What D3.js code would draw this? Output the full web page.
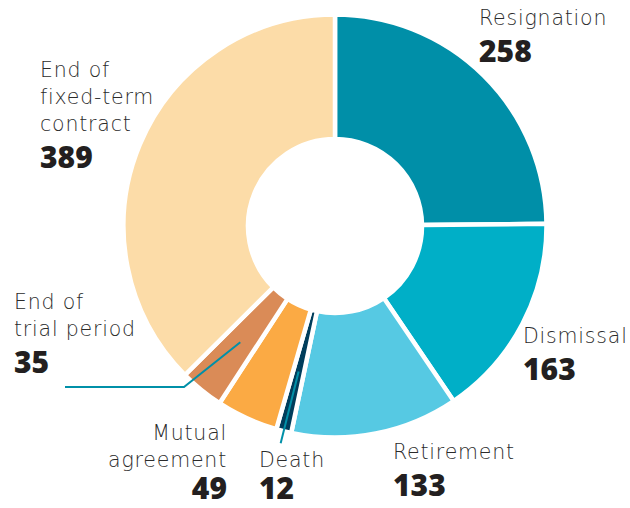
<!DOCTYPE html>
<html>
<head>
<meta charset="utf-8">
<script src="https://cdn.jsdelivr.net/npm/d3@7"></script>
<style>
  body { margin: 0; background: #fff; }
  .lbl { font-family: "DejaVu Sans", sans-serif; font-weight: 200; font-size: 20.5px; letter-spacing: 0.8px; fill: #2b2b2b; }
  .num { font-family: "Open Sans", sans-serif; font-weight: 800; font-size: 30px; fill: #231f20; }
</style>
</head>
<body>
<div id="chart"></div>
<script>
// data, clockwise from 12 o'clock
const categories = ["Resignation", "Dismissal", "Retirement", "Death", "Mutual agreement", "End of trial period", "End of fixed-term contract"];
const counts = [258, 163, 133, 12, 49, 35, 389];
const colours = ["#008fa8", "#00afc7", "#56c9e3", "#003d5b", "#fbaa44", "#da8b57", "#fcdca8"];
const labelLines = [["Resignation"], ["Dismissal"], ["Retirement"], ["Death"], ["Mutual", "agreement"], ["End of", "trial period"], ["End of", "fixed-term", "contract"]];

const width = 630, height = 508;
const cx = 335, cy = 226;
const outerR = 211.5, innerR = 87;

// where each label block sits: x, first baseline, anchor
const labelPos = [
  { x: 479, y: 25, anchor: "start" },
  { x: 523, y: 343, anchor: "start" },
  { x: 393, y: 459, anchor: "start" },
  { x: 259, y: 467, anchor: "start" },
  { x: 227, y: 440, anchor: "end" },
  { x: 14, y: 309, anchor: "start" },
  { x: 40, y: 77, anchor: "start" }
];

const svg = d3.select("#chart").append("svg")
  .attr("width", width)
  .attr("height", height);

const g = svg.append("g").attr("transform", `translate(${cx},${cy})`);

const rows = categories.map((c, i) => ({ name: c, value: counts[i], i }));
const pie = d3.pie().value(d => d.value).sort(null);
const arc = d3.arc().innerRadius(innerR).outerRadius(outerR);
const arcs = pie(rows);

g.selectAll("path.slice")
  .data(arcs)
  .join("path")
  .attr("class", "slice")
  .attr("d", arc)
  .attr("fill", d => colours[d.data.i])
  .attr("stroke", "#fff")
  .attr("stroke-width", 4.5)
  .attr("stroke-linejoin", "miter");

// leader lines for the two small slices
const polar = (a, r) => [r * Math.sin(a), -r * Math.cos(a)];
const mid = d => (d.startAngle + d.endAngle) / 2;

const death = arcs[3];
const trial = arcs[5];
const leaders = [
  [polar(mid(death), 150), polar(mid(death), 224)],
  [polar(mid(trial), 150), [184 - cx, 387 - cy], [65 - cx, 387 - cy]]
];
g.selectAll("path.leader")
  .data(leaders)
  .join("path")
  .attr("class", "leader")
  .attr("d", d3.line())
  .attr("fill", "none")
  .attr("stroke", "#0090a8")
  .attr("stroke-width", 2);

// labels
const lab = svg.selectAll("g.label")
  .data(rows)
  .join("g")
  .attr("class", "label");

lab.each(function (d) {
  const p = labelPos[d.i];
  const sel = d3.select(this);
  const lines = labelLines[d.i];
  lines.forEach((t, k) => {
    sel.append("text")
      .attr("class", "lbl")
      .attr("x", p.x)
      .attr("y", p.y + k * 27)
      .attr("text-anchor", p.anchor)
      .text(t);
  });
  sel.append("text")
    .attr("class", "num")
    .attr("x", p.x)
    .attr("y", Math.min(p.y + (lines.length - 1) * 27 + 37, 499))
    .attr("text-anchor", p.anchor)
    .text(d.value);
});
</script>
</body>
</html>
